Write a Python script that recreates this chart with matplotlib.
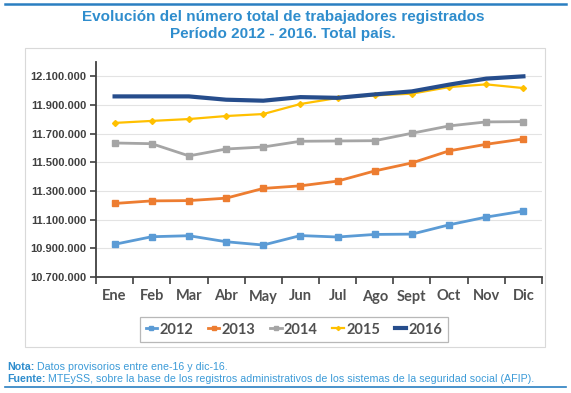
import matplotlib
matplotlib.use("Agg")
import matplotlib.pyplot as plt
from matplotlib.lines import Line2D
from matplotlib.patches import Rectangle
import numpy as np

months = ["Ene", "Feb", "Mar", "Abr", "May", "Jun", "Jul", "Ago", "Sept", "Oct", "Nov", "Dic"]

# registered workers
w2012 = [10928000, 10981000, 10988000, 10946000, 10923000, 10989000,
         10979000, 10997000, 10999000, 11064000, 11118000, 11160000]
w2013 = [11213000, 11231000, 11233000, 11250000, 11318000, 11336000,
         11369000, 11440000, 11496000, 11580000, 11626000, 11663000]
w2014 = [11635000, 11630000, 11545000, 11593000, 11607000, 11647000,
         11649000, 11651000, 11703000, 11754000, 11782000, 11784000]
w2015 = [11775000, 11789000, 11802000, 11823000, 11837000, 11907000,
         11949000, 11967000, 11979000, 12025000, 12044000, 12018000]
w2016 = [11960000, 11960000, 11960000, 11937000, 11930000, 11955000,
         11950000, 11974000, 11995000, 12042000, 12084000, 12100000]

y_ticks = np.arange(10700000, 12100001, 200000)

BLUE = "#2F8DCD"
W, H = 571, 393

fig = plt.figure(figsize=(W / 100, H / 100), dpi=100)


def fx(px):
    return px / W


def fy(py):
    return 1 - py / H


# outer decorations
fig.add_artist(Line2D([fx(5), fx(566)], [fy(4), fy(4)], color="#2A7FC1", lw=1.8))
fig.add_artist(Line2D([fx(5), fx(566)], [fy(387), fy(387)], color="#2A7FC1", lw=1.2))
fig.add_artist(Rectangle((fx(25), fy(347)), fx(545) - fx(25), fy(48) - fy(347),
                         fill=False, edgecolor="#D9D9D9", lw=0.8))

fig.text(fx(283), fy(17), "Evolución del número total de trabajadores registrados",
         ha="center", va="center", fontsize=11, fontweight="bold", color=BLUE,
         family="Liberation Sans")
fig.text(fx(283), fy(34), "Período 2012 - 2016. Total país.",
         ha="center", va="center", fontsize=11, fontweight="bold", color=BLUE,
         family="Liberation Sans")

ax = fig.add_axes([fx(96), fy(277), fx(542) - fx(96), fy(62) - fy(277)])

x = np.arange(len(months))
ax.plot(x, w2012, color="#5B9BD5", lw=2.0, marker="s", ms=4.5, label="2012")
ax.plot(x, w2013, color="#ED7D31", lw=2.0, marker="s", ms=4.5, label="2013")
ax.plot(x, w2014, color="#A5A5A5", lw=2.0, marker="s", ms=4.5, label="2014")
ax.plot(x, w2015, color="#FFC000", lw=1.6, marker="D", ms=3.0, label="2015")
ax.plot(x, w2016, color="#264D8C", lw=3.0, label="2016")

ax.set_xlim(-0.5, len(months) - 0.5)
ax.set_ylim(10700000, 12200000)

ax.set_yticks(y_ticks)
ax.set_yticklabels([f"{v:,}".replace(",", ".") for v in y_ticks])
ax.yaxis.grid(True, color="#E3E3E3", lw=0.8)
ax.set_axisbelow(True)

# ticks between categories, labels centred on them
ax.set_xticks(np.arange(-0.5, len(months), 1.0))
ax.set_xticklabels([])
ax.set_xticks(x, minor=True)
ax.set_xticklabels(months, minor=True)

for s in ["top", "right"]:
    ax.spines[s].set_visible(False)
for s in ["left", "bottom"]:
    ax.spines[s].set_color("#404040")
    ax.spines[s].set_linewidth(1.3)

ax.tick_params(axis="y", length=4, width=1.2, color="#404040", labelsize=8,
               labelcolor="#404040", pad=3)
ax.tick_params(axis="x", which="major", length=5, width=1.2, color="#404040")
ax.tick_params(axis="x", which="minor", length=0, labelsize=10.5,
               labelcolor="#505050", pad=9)
for lab in ax.get_yticklabels():
    lab.set_fontweight("bold")
    lab.set_family("Liberation Sans")
for lab in ax.get_xticklabels(minor=True):
    lab.set_fontweight("bold")
    lab.set_family("Lato")

leg = fig.legend(loc="center", bbox_to_anchor=(fx(294), fy(329.5)), ncol=5,
                 frameon=True, fancybox=False, handlelength=0.8, handletextpad=0.15,
                 columnspacing=1.0, borderpad=0.35, markerscale=0.7,
                 prop={"family": "Lato", "weight": "bold", "size": 10.5})
leg.get_frame().set_edgecolor("#A6A6A6")
leg.get_frame().set_linewidth(0.9)
for t in leg.get_texts():
    t.set_color("#505050")

t1 = fig.text(fx(7), fy(367), "Nota:", fontsize=7.7, fontweight="bold", color=BLUE,
              va="center", family="Liberation Sans")
ax.annotate(" Datos provisorios entre ene-16 y dic-16.", xy=(1, 0.5), xycoords=t1,
            va="center", ha="left", fontsize=7.7, color="#3C9BD8",
            family="Liberation Sans", annotation_clip=False)
t2 = fig.text(fx(7), fy(379), "Fuente:", fontsize=7.7, fontweight="bold", color=BLUE,
              va="center", family="Liberation Sans")
ax.annotate(" MTEySS, sobre la base de los registros administrativos de los sistemas "
            "de la seguridad social (AFIP).", xy=(1, 0.5), xycoords=t2,
            va="center", ha="left", fontsize=7.7, color="#3C9BD8",
            family="Liberation Sans", annotation_clip=False)

fig.savefig("out.png", dpi=100)
